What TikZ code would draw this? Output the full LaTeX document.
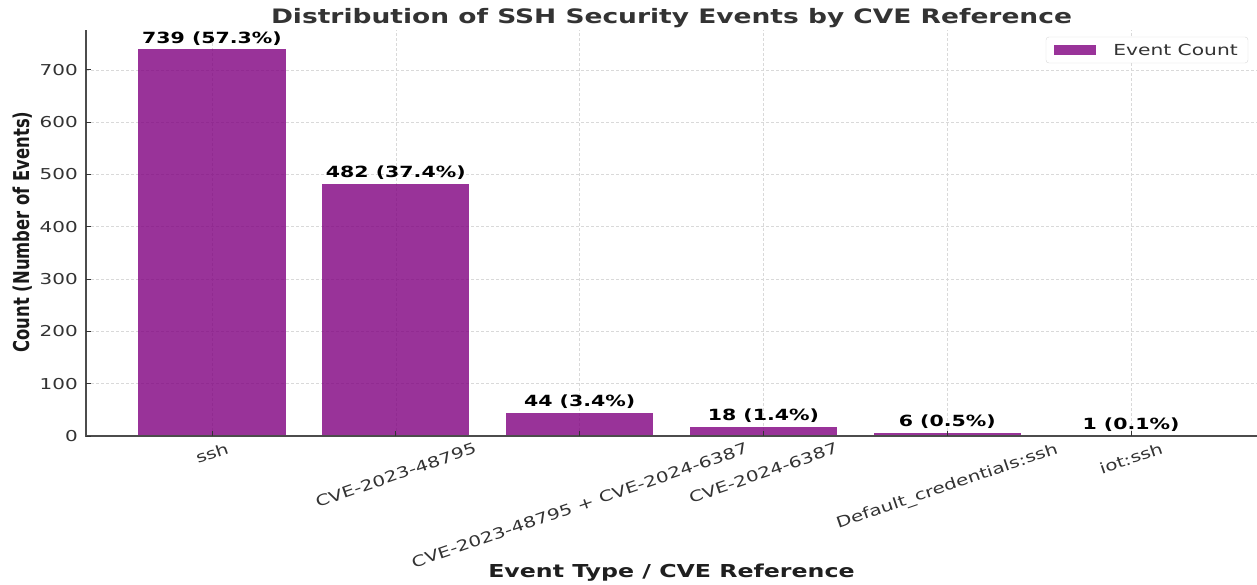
\documentclass[tikz,border=0pt]{standalone}
\usepackage{fontspec}
\setmainfont{DejaVu Sans}[FakeStretch=1.33]
\newfontfamily\ylabfont{DejaVu Sans}
\usepackage{xcolor}
\usepackage{tikz}
\usetikzlibrary{positioning}
\definecolor{barpurple}{HTML}{800080}
\definecolor{txtgray}{HTML}{333333}
\tikzset{
  bar/.style={fill=barpurple,fill opacity=0.8,draw=none},
  grd/.style={draw=black!15,dash pattern=on 3pt off 2pt,line width=0.6pt},
  spine/.style={draw=black!70,line width=1.1pt},
  tck/.style={draw=black!80,line width=0.8pt},
  ytl/.style={anchor=east,inner sep=0,text=txtgray,font=\fontsize{15}{16}\selectfont},
  xtl/.style={anchor=north,inner sep=0,text=txtgray,font=\fontsize{15}{16}\selectfont},
  val/.style={anchor=south,inner sep=0,font=\bfseries\fontsize{15.4}{16}\selectfont},
}

\begin{document}
\begin{tikzpicture}[x=1pt,y=1pt]
  \useasboundingbox (0,0) rectangle (1257,585);
  \fill[white] (0,0) rectangle (1257,585);
  % axes: one category = 183.8pt, one event = 0.523pt
  \begin{scope}[shift={(212,149)},x=183.8pt,y=0.523pt]
    % grid
    \foreach \v in {0,100,...,700}
      \draw[grd] (-0.6855,\v) -- (5.6855,\v);
    \foreach \i in {0,...,5}
      \draw[grd] (\i,0) -- (\i,776);
    % bars and their counts
    \foreach \i/\n/\p in {0/739/57.3,1/482/37.4,2/44/3.4,3/18/1.4,4/6/0.5,5/1/0.1} {
      \fill[bar] (\i-0.4,0) rectangle (\i+0.4,\n);
      \node[val] (v\i) at ([yshift=4pt]\i,\n) {\n{} (\p\%)};
    }
    % spines and ticks
    \draw[spine] (-0.6855,776) -- (-0.6855,0) -- (5.6855,0);
    \foreach \v in {0,100,...,700} {
      \draw[tck] (-0.6855,\v) -- ++(5pt,0);
      \node[ytl] (y\v) at ([xshift=-8pt]-0.6855,\v) {\v};
    }
    \foreach \i/\t in {0/ssh,1/CVE-2023-48795,2/CVE-2023-48795 + CVE-2024-6387,3/CVE-2024-6387,4/Default\_credentials:ssh,5/iot:ssh} {
      \draw[tck] (\i,0) -- ++(0,5pt);
      \node[xtl] (x\i) at ([yshift=-6pt]\i,0) {\rotatebox{19}{\t}};
    }
  \end{scope}
  % titles
  \node[anchor=base,text=txtgray,font=\bfseries\fontsize{19.9}{22}\selectfont] (title) at (671.5,561)
       {Distribution of SSH Security Events by CVE Reference};
  \node[anchor=base,text=black!88,font=\bfseries\fontsize{17.8}{20}\selectfont] (xlab) at (671.5,7)
       {Event Type / CVE Reference};
  \node[rotate=90,inner sep=0,text=black!90] (ylab) at (22.5,353)
       {\scalebox{1}[1.33]{\ylabfont\bfseries\fontsize{16.4}{18}\selectfont Count (Number of Events)}};
  % legend
  \node[draw=black!15,fill=white,rounded corners=3pt,minimum width=202pt,minimum height=26pt] (leg) at (1147,535) {};
  \node[bar,inner sep=0,minimum width=42pt,minimum height=10pt,right=8pt of leg.west] (legpatch) {};
  \node[right=17pt of legpatch,inner sep=0,text=txtgray,font=\fontsize{15.2}{16}\selectfont] (legtxt) {Event Count};
\end{tikzpicture}
\end{document}
